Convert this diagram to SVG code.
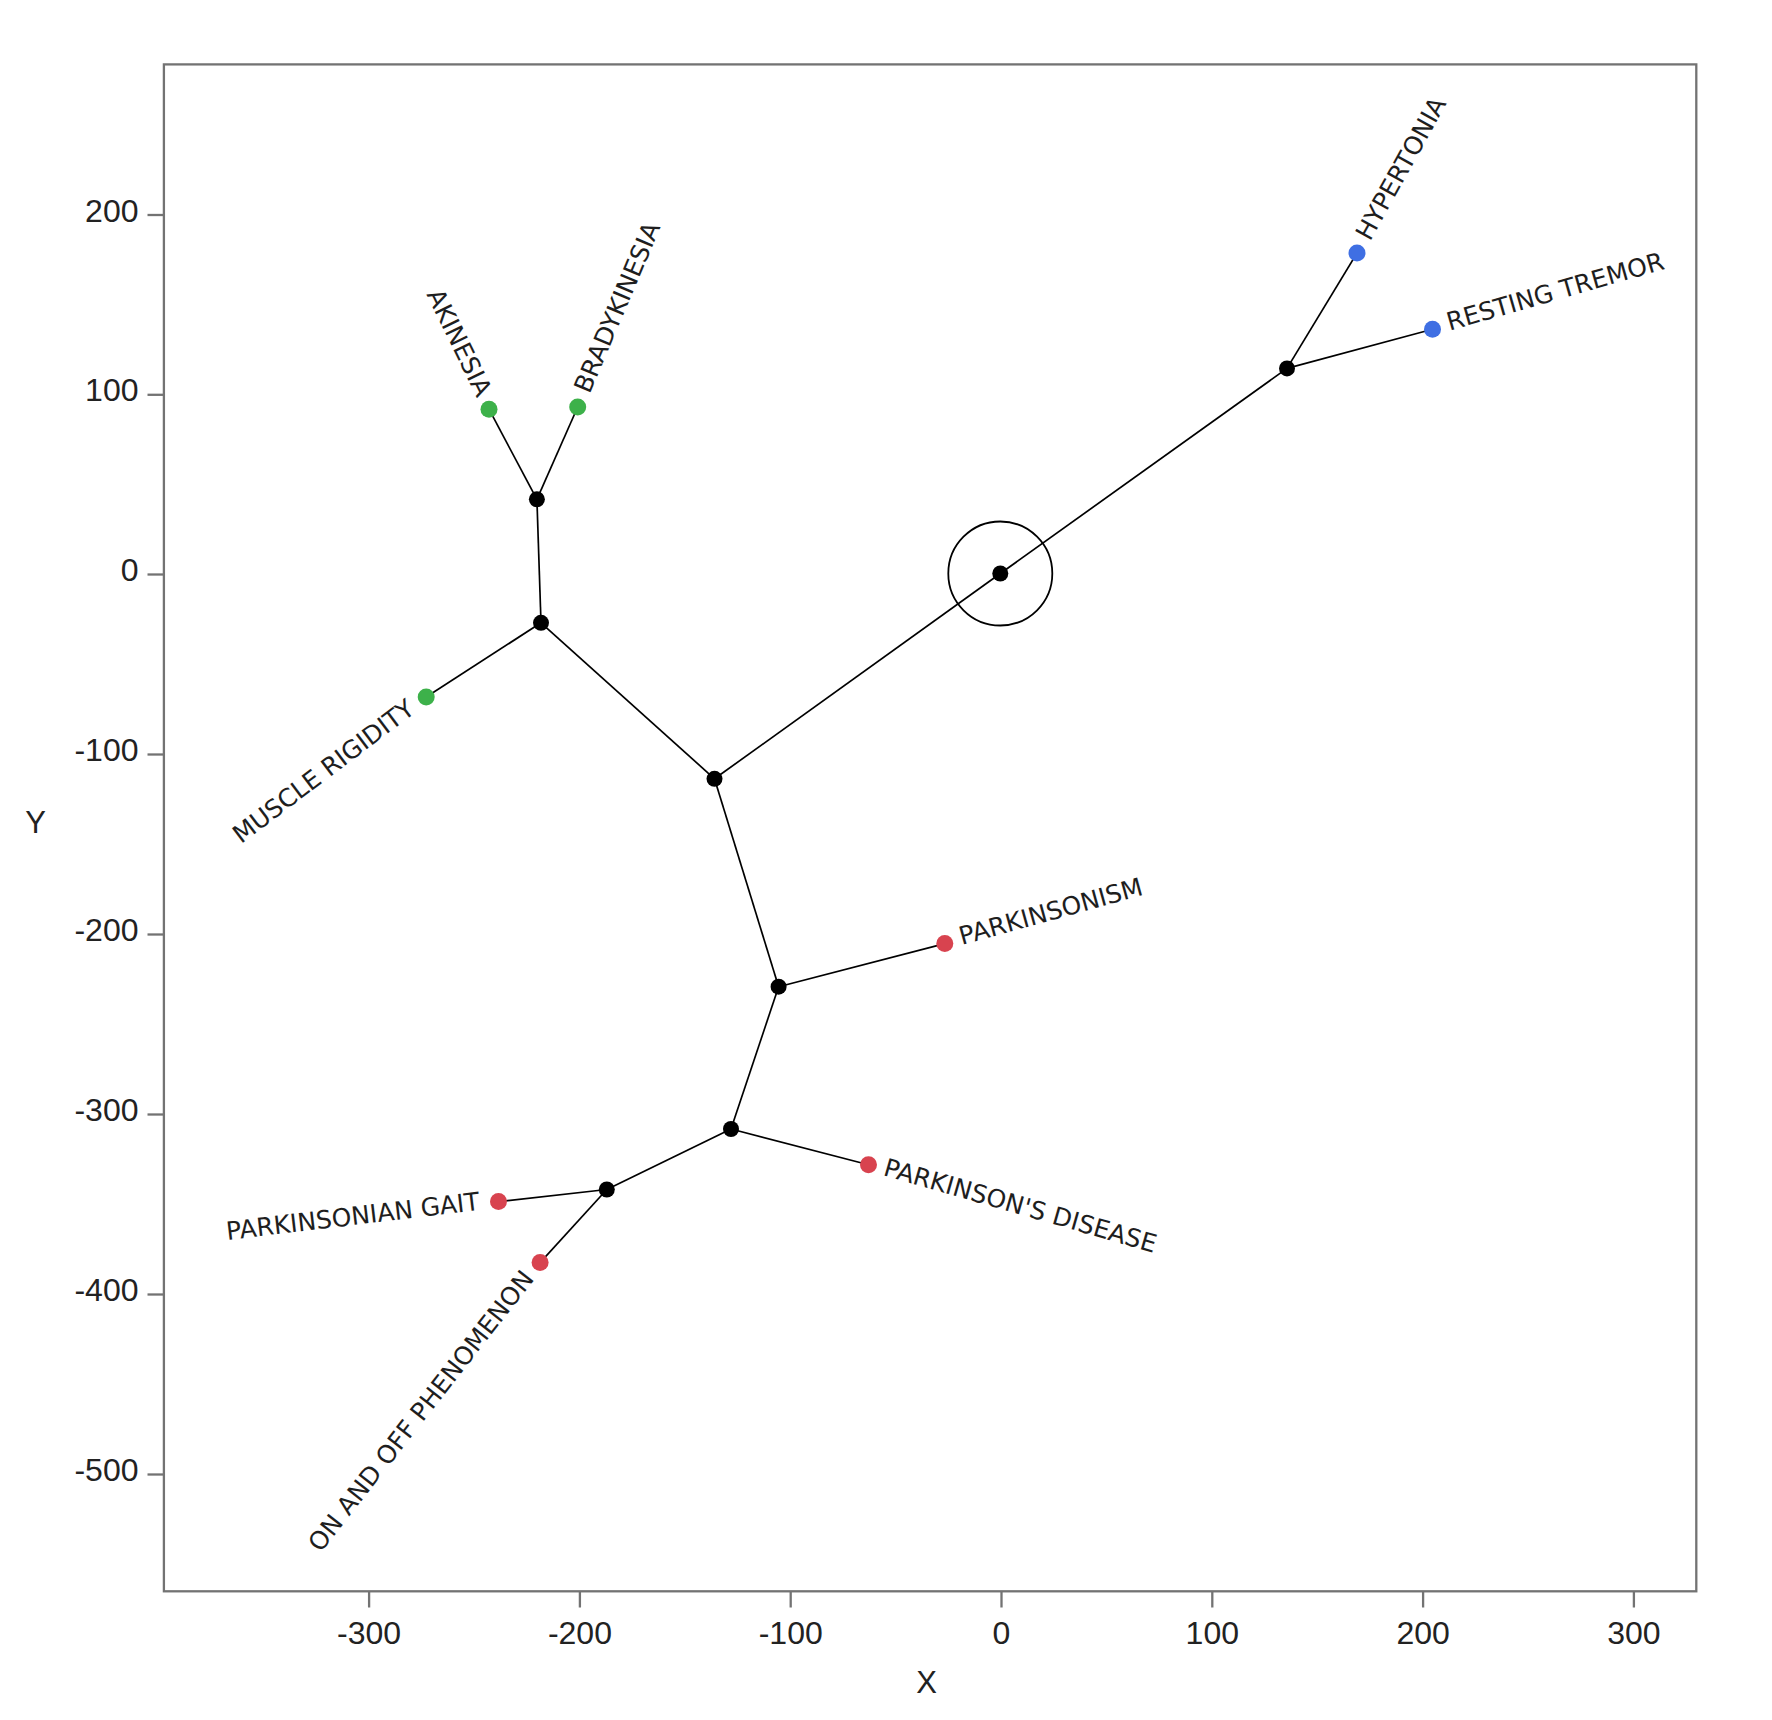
<svg xmlns="http://www.w3.org/2000/svg" width="1772" height="1720" viewBox="0 0 1772 1720">
<style>
.frame{fill:none;stroke:#737373;stroke-width:2.3}
.tick{stroke:#737373;stroke-width:2.3}
.tl{font-family:"Liberation Sans",Arial,sans-serif;font-size:32px;fill:#222}
.ax{font-family:"Liberation Sans",Arial,sans-serif;font-size:31px;fill:#222}
.edge{stroke:#000;stroke-width:1.7;fill:none}
.jn{fill:#000}
.g{fill:#3db14a}
.b{fill:#3f6fe3}
.r{fill:#d8434f}
.lab{font-family:"DejaVu Sans",Verdana,sans-serif;font-size:25px;fill:#1e1e1e}
.s{text-anchor:start}
.e{text-anchor:end}
</style>
<rect width="1772" height="1720" fill="#fff"/>
<g id="axes">
<rect class="frame" x="163.9" y="64.4" width="1532.4" height="1526.9"/>
<line class="tick" x1="147.5" y1="215" x2="163.9" y2="215"/>
<line class="tick" x1="147.5" y1="394.8" x2="163.9" y2="394.8"/>
<line class="tick" x1="147.5" y1="574.5" x2="163.9" y2="574.5"/>
<line class="tick" x1="147.5" y1="754.5" x2="163.9" y2="754.5"/>
<line class="tick" x1="147.5" y1="934.5" x2="163.9" y2="934.5"/>
<line class="tick" x1="147.5" y1="1114.5" x2="163.9" y2="1114.5"/>
<line class="tick" x1="147.5" y1="1294.5" x2="163.9" y2="1294.5"/>
<line class="tick" x1="147.5" y1="1474.5" x2="163.9" y2="1474.5"/>
<text class="tl" text-anchor="end" x="138.5" y="221.5">200</text>
<text class="tl" text-anchor="end" x="138.5" y="401.3">100</text>
<text class="tl" text-anchor="end" x="138.5" y="581">0</text>
<text class="tl" text-anchor="end" x="138.5" y="761">-100</text>
<text class="tl" text-anchor="end" x="138.5" y="941">-200</text>
<text class="tl" text-anchor="end" x="138.5" y="1121">-300</text>
<text class="tl" text-anchor="end" x="138.5" y="1301">-400</text>
<text class="tl" text-anchor="end" x="138.5" y="1481">-500</text>
<line class="tick" x1="369.1" y1="1591.3" x2="369.1" y2="1607.5"/>
<line class="tick" x1="579.9" y1="1591.3" x2="579.9" y2="1607.5"/>
<line class="tick" x1="790.7" y1="1591.3" x2="790.7" y2="1607.5"/>
<line class="tick" x1="1001.5" y1="1591.3" x2="1001.5" y2="1607.5"/>
<line class="tick" x1="1212.3" y1="1591.3" x2="1212.3" y2="1607.5"/>
<line class="tick" x1="1423.1" y1="1591.3" x2="1423.1" y2="1607.5"/>
<line class="tick" x1="1633.9" y1="1591.3" x2="1633.9" y2="1607.5"/>
<text class="tl" text-anchor="middle" x="369.1" y="1643.5">-300</text>
<text class="tl" text-anchor="middle" x="579.9" y="1643.5">-200</text>
<text class="tl" text-anchor="middle" x="790.7" y="1643.5">-100</text>
<text class="tl" text-anchor="middle" x="1001.5" y="1643.5">0</text>
<text class="tl" text-anchor="middle" x="1212.3" y="1643.5">100</text>
<text class="tl" text-anchor="middle" x="1423.1" y="1643.5">200</text>
<text class="tl" text-anchor="middle" x="1633.9" y="1643.5">300</text>
<text class="ax" text-anchor="middle" x="926.6" y="1692.5">X</text>
<text class="ax" text-anchor="middle" x="35.5" y="833">Y</text>
</g>
<g id="connectors">
<line class="edge" x1="1000.3" y1="573.5" x2="1287" y2="368.4"/>
<line class="edge" x1="1000.3" y1="573.5" x2="714.5" y2="778.8"/>
<line class="edge" x1="1287" y1="368.4" x2="1357" y2="253"/>
<line class="edge" x1="1287" y1="368.4" x2="1432.5" y2="329.3"/>
<line class="edge" x1="714.5" y1="778.8" x2="541" y2="622.8"/>
<line class="edge" x1="714.5" y1="778.8" x2="778.6" y2="986.7"/>
<line class="edge" x1="541" y1="622.8" x2="536.9" y2="499.3"/>
<line class="edge" x1="541" y1="622.8" x2="426.2" y2="697"/>
<line class="edge" x1="536.9" y1="499.3" x2="489" y2="409.2"/>
<line class="edge" x1="536.9" y1="499.3" x2="577.7" y2="407"/>
<line class="edge" x1="778.6" y1="986.7" x2="944.8" y2="943.6"/>
<line class="edge" x1="778.6" y1="986.7" x2="731" y2="1129"/>
<line class="edge" x1="731" y1="1129" x2="868.5" y2="1164.8"/>
<line class="edge" x1="731" y1="1129" x2="606.8" y2="1189.5"/>
<line class="edge" x1="606.8" y1="1189.5" x2="498.5" y2="1201.6"/>
<line class="edge" x1="606.8" y1="1189.5" x2="540.1" y2="1262.6"/>
</g>
<g id="node-root">
<circle cx="1000.3" cy="573.5" r="52" fill="none" stroke="#000" stroke-width="1.8"/>
<circle class="jn" cx="1000.3" cy="573.5" r="8"/>
</g>
<g id="node-a"><circle class="jn" cx="1287" cy="368.4" r="8"/></g>
<g id="node-b"><circle class="jn" cx="714.5" cy="778.8" r="8"/></g>
<g id="node-c"><circle class="jn" cx="541" cy="622.8" r="8"/></g>
<g id="node-d"><circle class="jn" cx="536.9" cy="499.3" r="8"/></g>
<g id="node-e"><circle class="jn" cx="778.6" cy="986.7" r="8"/></g>
<g id="node-f"><circle class="jn" cx="731" cy="1129" r="8"/></g>
<g id="node-g"><circle class="jn" cx="606.8" cy="1189.5" r="8"/></g>
<g id="node-hypertonia">
<circle class="b" cx="1357" cy="253" r="8.5"/>
<text class="lab s" transform="translate(1357 253) rotate(-61)" x="16" dy="6">HYPERTONIA</text>
</g>
<g id="node-resting-tremor">
<circle class="b" cx="1432.5" cy="329.3" r="8.5"/>
<text class="lab s" transform="translate(1432.5 329.3) rotate(-16)" x="16" dy="6">RESTING TREMOR</text>
</g>
<g id="node-akinesia">
<circle class="g" cx="489" cy="409.2" r="8.5"/>
<text class="lab e" transform="translate(489 409.2) rotate(64)" x="-15" dy="6">AKINESIA</text>
</g>
<g id="node-bradykinesia">
<circle class="g" cx="577.7" cy="407" r="8.5"/>
<text class="lab s" transform="translate(577.7 407) rotate(-67)" x="16" dy="6">BRADYKINESIA</text>
</g>
<g id="node-muscle-rigidity">
<circle class="g" cx="426.2" cy="697" r="8.5"/>
<text class="lab e" transform="translate(426.2 697) rotate(-37)" x="-17" dy="6">MUSCLE RIGIDITY</text>
</g>
<g id="node-parkinsonism">
<circle class="r" cx="944.8" cy="943.6" r="8.5"/>
<text class="lab s" transform="translate(944.8 943.6) rotate(-15.5)" x="16" dy="6">PARKINSONISM</text>
</g>
<g id="node-parkinsons-disease">
<circle class="r" cx="868.5" cy="1164.8" r="8.5"/>
<text class="lab s" transform="translate(868.5 1164.8) rotate(16)" x="16" dy="6">PARKINSON'S DISEASE</text>
</g>
<g id="node-parkinsonian-gait">
<circle class="r" cx="498.5" cy="1201.6" r="8.5"/>
<text class="lab e" transform="translate(498.5 1201.6) rotate(-6.8)" x="-19" dy="6">PARKINSONIAN GAIT</text>
</g>
<g id="node-on-and-off">
<circle class="r" cx="540.1" cy="1262.6" r="8.5"/>
<text class="lab e" transform="translate(540.1 1262.6) rotate(-52)" x="-16" dy="6">ON AND OFF PHENOMENON</text>
</g>
</svg>
